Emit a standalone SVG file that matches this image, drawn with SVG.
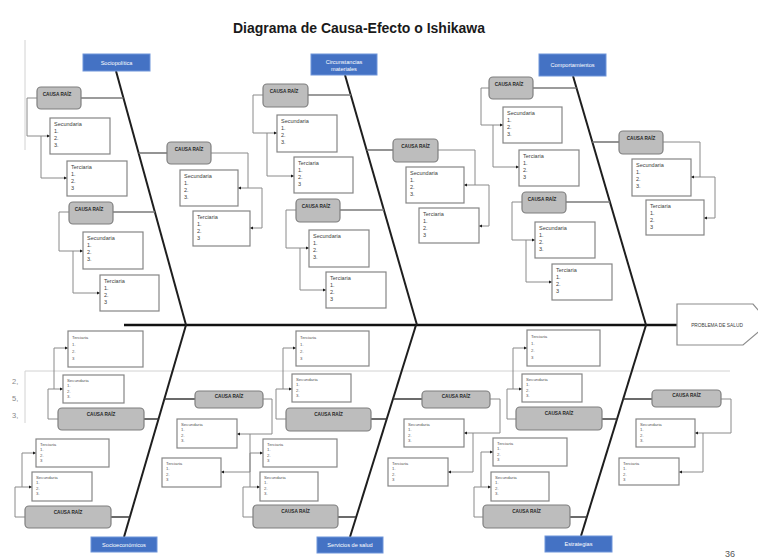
<svg xmlns="http://www.w3.org/2000/svg" width="758" height="559" viewBox="0 0 758 559">
  <style>
    text { font-family: "Liberation Sans", Arial, sans-serif; }
    .title { font-size: 14px; font-weight: bold; fill: #1a1a1a; text-anchor: middle; }
    .spine { stroke: #111; stroke-width: 2.6; fill: none; }
    .bone { stroke: #1e1e1e; stroke-width: 2; fill: none; }
    .stub { stroke: #7a7a7a; stroke-width: 1.6; fill: none; }
    .stub-low { stroke: #3a3a3a; stroke-width: 1.5; fill: none; }
    .link { stroke: #8a8a8a; stroke-width: 1; fill: none; }
    .arrow { marker-end: url(#arr); }
    .faint { stroke: #d2d2d2; stroke-width: 1; fill: none; }
    .cat rect { fill: #4472c4; stroke: #6f95da; stroke-width: 1; }
    .cat text { fill: #ffffff; font-size: 5.6px; text-anchor: middle; }
    .cr rect { fill: #bdbdbd; stroke: #7f7f7f; stroke-width: 1.2; }
    .cr text { fill: #262626; font-size: 4.7px; font-weight: bold; text-anchor: middle; }
    .box rect { fill: #ffffff; stroke: #858585; stroke-width: 1.2; }
    .box text { fill: #404040; font-size: 5.5px; }
    .small text { font-size: 4.3px; fill: #555; }
    .problem polygon { fill: #ffffff; stroke: #8c8c8c; stroke-width: 1.2; }
    .problem text { fill: #404040; font-size: 4.8px; text-anchor: middle; }
    .note { fill: #555; font-size: 9px; }
    .glyph { fill: #888; font-size: 7.5px; }
  </style>
  <defs>
    <marker id="arr" viewBox="0 0 6 6" refX="6" refY="3" markerWidth="3.4" markerHeight="3.4" orient="auto" markerUnits="userSpaceOnUse">
      <path d="M0,0 L6,3 L0,6 z" fill="#1a1a1a"/>
    </marker>
  </defs>

  <rect width="758" height="559" fill="#ffffff"/>

  <text class="title" x="359" y="33">Diagrama de Causa-Efecto o Ishikawa</text>

  <!-- light guide lines -->
  <g id="guides">
    <path class="faint" d="M25,40 V150"/>
    <path class="faint" d="M25,423 V371 H730"/>
    <text class="glyph" x="12" y="384">2,</text>
    <text class="glyph" x="12" y="401">5,</text>
    <text class="glyph" x="12" y="418">3,</text>
  </g>

  <!-- connectors: spine, bones, stubs and brackets -->
  <g id="connectors">
    <path class="spine" d="M124,325 H677"/>
    <path class="bone" d="M116,71 L186,325"/>
    <path class="bone" d="M345,75 L417,325"/>
    <path class="bone" d="M573,76 L646,325"/>
    <path class="bone" d="M186,325 L124,537"/>
    <path class="bone" d="M416,325 L350,537"/>
    <path class="bone" d="M646,325 L581,536"/>

    <!-- root-cause stubs -->
    <path class="stub" d="M81,98 H123.4"/>
    <path class="stub" d="M113,212 H155"/>
    <path class="stub" d="M138.6,153 H167"/>
    <path class="stub" d="M308,95 H351"/>
    <path class="stub" d="M340,210 H384"/>
    <path class="stub" d="M366.6,150 H393"/>
    <path class="stub" d="M533,88 H576.5"/>
    <path class="stub" d="M566,202 H610"/>
    <path class="stub" d="M592.3,142 H619"/>
    <path class="stub-low" d="M144,419 H158.5"/>
    <path class="stub-low" d="M164.4,399 H195"/>
    <path class="stub-low" d="M111,517 H130"/>
    <path class="stub-low" d="M371,419 H386.7"/>
    <path class="stub-low" d="M393,399 H422"/>
    <path class="stub-low" d="M338,517 H356"/>
    <path class="stub-low" d="M602,419 H617"/>
    <path class="stub-low" d="M623.2,399 H652"/>
    <path class="stub-low" d="M570,517 H587"/>

    <!-- brackets, upper half -->
    <path class="link arrow" d="M37,98 H27 V136 H50"/>
    <path class="link arrow" d="M41,136 V178 H67"/>
    <path class="link arrow" d="M69,212 H59 V251 H83"/>
    <path class="link arrow" d="M73,251 V293 H100"/>
    <path class="link" d="M211,153 H248 V188"/>
    <path class="link arrow" d="M262,188 H238"/>
    <path class="link arrow" d="M262,188 V228 H250"/>
    <path class="link arrow" d="M263,95 H253 V133 H277"/>
    <path class="link arrow" d="M267,133 V176 H294"/>
    <path class="link arrow" d="M296,210 H286 V248 H309"/>
    <path class="link arrow" d="M300,248 V290 H326"/>
    <path class="link" d="M438,150 H475 V185"/>
    <path class="link arrow" d="M489,185 H464"/>
    <path class="link arrow" d="M489,185 V226 H479"/>
    <path class="link arrow" d="M489,88 H481 V125 H503"/>
    <path class="link arrow" d="M493,125 V167 H519"/>
    <path class="link arrow" d="M522,202 H512 V240 H535"/>
    <path class="link arrow" d="M526,240 V282 H552"/>
    <path class="link" d="M663,142 H700 V177"/>
    <path class="link arrow" d="M715,177 H691"/>
    <path class="link arrow" d="M715,177 V218 H704"/>

    <!-- brackets, lower half -->
    <path class="link arrow" d="M58,419 H48 V389 H63"/>
    <path class="link arrow" d="M54,389 V348 H68"/>
    <path class="link arrow" d="M263,399 H272 V434 H237"/>
    <path class="link arrow" d="M250,434 V472 H221"/>
    <path class="link arrow" d="M25,517 H15 V487 H32"/>
    <path class="link arrow" d="M22,487 V453 H36"/>
    <path class="link arrow" d="M286,419 H276 V389 H292"/>
    <path class="link arrow" d="M283,389 V348 H296"/>
    <path class="link arrow" d="M490,399 H500 V433 H464"/>
    <path class="link arrow" d="M473,433 V472 H448"/>
    <path class="link arrow" d="M253,517 H243 V487 H260"/>
    <path class="link arrow" d="M250,487 V453 H263"/>
    <path class="link arrow" d="M516,419 H507 V389 H522"/>
    <path class="link arrow" d="M513,389 V348 H527"/>
    <path class="link arrow" d="M721,399 H731 V433 H695"/>
    <path class="link arrow" d="M703,433 V472 H679"/>
    <path class="link arrow" d="M483,517 H474 V487 H491"/>
    <path class="link arrow" d="M481,487 V452 H493"/>
  </g>

  <!-- effect -->
  <g id="problema" class="problem">
    <polygon points="677,304 753,304 769,323 743,345 677,345"/>
    <text x="717" y="327">PROBLEMA DE SALUD</text>
  </g>

  <!-- categories -->
  <g id="cat-sociopolitica" class="cat"><rect x="83" y="54" width="67" height="17"/><text x="116.5" y="64.5">Sociopolítica</text></g>
  <g id="cat-circunstancias" class="cat"><rect x="311" y="54" width="66" height="21"/><text x="344" y="63.5">Circunstancias</text><text x="344" y="70.5">materiales</text></g>
  <g id="cat-comportamientos" class="cat"><rect x="539" y="54" width="67" height="22"/><text x="572.5" y="67">Comportamientos</text></g>
  <g id="cat-socioeconomicos" class="cat"><rect x="91" y="537" width="66" height="15"/><text x="124" y="546.5">Socioeconómicos</text></g>
  <g id="cat-servicios" class="cat"><rect x="317" y="537" width="66" height="16"/><text x="350" y="547">Servicios de salud</text></g>
  <g id="cat-estrategias" class="cat"><rect x="545" y="536" width="67" height="16"/><text x="578.5" y="546">Estrategias</text></g>

  <!-- root causes, upper half -->
  <g id="cr-1" class="cr"><rect x="37" y="87" width="44" height="22" rx="4"/><text x="57" y="95.5">CAUSA RAÍZ</text></g>
  <g id="cr-2" class="cr"><rect x="69" y="202" width="44" height="22" rx="4"/><text x="89" y="210.5">CAUSA RAÍZ</text></g>
  <g id="cr-3" class="cr"><rect x="167" y="142" width="44" height="22" rx="4"/><text x="189" y="150.5">CAUSA RAÍZ</text></g>
  <g id="cr-4" class="cr"><rect x="263" y="84" width="45" height="23" rx="4"/><text x="284" y="92.5">CAUSA RAÍZ</text></g>
  <g id="cr-5" class="cr"><rect x="296" y="199" width="44" height="23" rx="4"/><text x="316" y="207.5">CAUSA RAÍZ</text></g>
  <g id="cr-6" class="cr"><rect x="393" y="139" width="45" height="23" rx="4"/><text x="415.5" y="147.5">CAUSA RAÍZ</text></g>
  <g id="cr-7" class="cr"><rect x="489" y="77" width="44" height="22" rx="4"/><text x="509" y="85.5">CAUSA RAÍZ</text></g>
  <g id="cr-8" class="cr"><rect x="522" y="192" width="44" height="21" rx="4"/><text x="542" y="200.5">CAUSA RAÍZ</text></g>
  <g id="cr-9" class="cr"><rect x="619" y="131" width="44" height="23" rx="4"/><text x="641" y="139.5">CAUSA RAÍZ</text></g>

  <!-- root causes, lower half -->
  <g id="cr-b1" class="cr"><rect x="58" y="408" width="86" height="22" rx="4"/><text x="101" y="416">CAUSA RAÍZ</text></g>
  <g id="cr-b2" class="cr"><rect x="195" y="391" width="68" height="17" rx="4"/><text x="229" y="398">CAUSA RAÍZ</text></g>
  <g id="cr-b3" class="cr"><rect x="25" y="506" width="86" height="22" rx="4"/><text x="68" y="514">CAUSA RAÍZ</text></g>
  <g id="cr-b4" class="cr"><rect x="286" y="408" width="85" height="23" rx="4"/><text x="328.5" y="416">CAUSA RAÍZ</text></g>
  <g id="cr-b5" class="cr"><rect x="422" y="391" width="68" height="17" rx="4"/><text x="456" y="398">CAUSA RAÍZ</text></g>
  <g id="cr-b6" class="cr"><rect x="253" y="505" width="85" height="23" rx="4"/><text x="295.5" y="513">CAUSA RAÍZ</text></g>
  <g id="cr-b7" class="cr"><rect x="516" y="407" width="86" height="23" rx="4"/><text x="559" y="415">CAUSA RAÍZ</text></g>
  <g id="cr-b8" class="cr"><rect x="652" y="390" width="69" height="17" rx="4"/><text x="686.5" y="397">CAUSA RAÍZ</text></g>
  <g id="cr-b9" class="cr"><rect x="483" y="505" width="87" height="23" rx="4"/><text x="526.5" y="513">CAUSA RAÍZ</text></g>

  <!-- secondary / tertiary lists, upper half -->
  <g id="sec-1" class="box"><rect x="50" y="118" width="60" height="36"/><text x="54" y="126">Secundaria</text><text x="54" y="133">1.</text><text x="54" y="140">2.</text><text x="54" y="147">3.</text></g>
  <g id="ter-1" class="box"><rect x="67" y="161" width="60" height="35"/><text x="71" y="169">Terciaria</text><text x="71" y="176">1.</text><text x="71" y="183">2.</text><text x="71" y="190">3</text></g>
  <g id="sec-2" class="box"><rect x="83" y="232" width="60" height="37"/><text x="87" y="240">Secundaria</text><text x="87" y="247">1.</text><text x="87" y="254">2.</text><text x="87" y="261">3.</text></g>
  <g id="ter-2" class="box"><rect x="100" y="275" width="59" height="36"/><text x="104" y="283">Terciaria</text><text x="104" y="290">1.</text><text x="104" y="297">2.</text><text x="104" y="304">3</text></g>
  <g id="sec-3" class="box"><rect x="180" y="170" width="58" height="36"/><text x="184" y="178">Secundaria</text><text x="184" y="185">1.</text><text x="184" y="192">2.</text><text x="184" y="199">3.</text></g>
  <g id="ter-3" class="box"><rect x="193" y="211" width="57" height="35"/><text x="197" y="219">Terciaria</text><text x="197" y="226">1.</text><text x="197" y="233">2.</text><text x="197" y="240">3</text></g>
  <g id="sec-4" class="box"><rect x="277" y="115" width="60" height="37"/><text x="281" y="123">Secundaria</text><text x="281" y="130">1.</text><text x="281" y="137">2.</text><text x="281" y="144">3.</text></g>
  <g id="ter-4" class="box"><rect x="294" y="157" width="59" height="36"/><text x="298" y="165">Terciaria</text><text x="298" y="172">1.</text><text x="298" y="179">2.</text><text x="298" y="186">3</text></g>
  <g id="sec-5" class="box"><rect x="309" y="230" width="60" height="37"/><text x="313" y="238">Secundaria</text><text x="313" y="245">1.</text><text x="313" y="252">2.</text><text x="313" y="259">3.</text></g>
  <g id="ter-5" class="box"><rect x="326" y="272" width="60" height="36"/><text x="330" y="280">Terciaria</text><text x="330" y="287">1.</text><text x="330" y="294">2.</text><text x="330" y="301">3</text></g>
  <g id="sec-6" class="box"><rect x="406" y="167" width="58" height="36"/><text x="410" y="175">Secundaria</text><text x="410" y="182">1.</text><text x="410" y="189">2.</text><text x="410" y="196">3.</text></g>
  <g id="ter-6" class="box"><rect x="419" y="208" width="60" height="35"/><text x="423" y="216">Terciaria</text><text x="423" y="223">1.</text><text x="423" y="230">2.</text><text x="423" y="237">3</text></g>
  <g id="sec-7" class="box"><rect x="503" y="107" width="59" height="36"/><text x="507" y="115">Secundaria</text><text x="507" y="122">1.</text><text x="507" y="129">2.</text><text x="507" y="136">3.</text></g>
  <g id="ter-7" class="box"><rect x="519" y="150" width="60" height="36"/><text x="523" y="158">Terciaria</text><text x="523" y="165">1.</text><text x="523" y="172">2.</text><text x="523" y="179">3</text></g>
  <g id="sec-8" class="box"><rect x="535" y="222" width="60" height="36"/><text x="539" y="230">Secundaria</text><text x="539" y="237">1.</text><text x="539" y="244">2.</text><text x="539" y="251">3.</text></g>
  <g id="ter-8" class="box"><rect x="552" y="264" width="60" height="36"/><text x="556" y="272">Terciaria</text><text x="556" y="279">1.</text><text x="556" y="286">2.</text><text x="556" y="293">3</text></g>
  <g id="sec-9" class="box"><rect x="632" y="159" width="59" height="37"/><text x="636" y="167">Secundaria</text><text x="636" y="174">1.</text><text x="636" y="181">2.</text><text x="636" y="188">3.</text></g>
  <g id="ter-9" class="box"><rect x="646" y="200" width="58" height="35"/><text x="650" y="208">Terciaria</text><text x="650" y="215">1.</text><text x="650" y="222">2.</text><text x="650" y="229">3</text></g>

  <!-- secondary / tertiary lists, lower half -->
  <g id="ter-b1" class="box small"><rect x="68" y="331" width="75" height="36"/><text x="72" y="339">Terciaria</text><text x="72" y="346">1.</text><text x="72" y="353">2.</text><text x="72" y="360">3</text></g>
  <g id="sec-b1" class="box small"><rect x="63" y="375" width="61" height="28"/><text x="67" y="381.5">Secundaria</text><text x="67" y="387">1.</text><text x="67" y="392.5">2.</text><text x="67" y="398">3.</text></g>
  <g id="sec-b2" class="box small"><rect x="177" y="419" width="60" height="29"/><text x="181" y="425.5">Secundaria</text><text x="181" y="431">1.</text><text x="181" y="436.5">2.</text><text x="181" y="442">3.</text></g>
  <g id="ter-b2" class="box small"><rect x="162" y="458" width="59" height="29"/><text x="166" y="464.5">Terciaria</text><text x="166" y="470">1.</text><text x="166" y="475.5">2.</text><text x="166" y="481">3</text></g>
  <g id="ter-b3" class="box small"><rect x="36" y="439" width="73" height="28"/><text x="40" y="445.5">Terciaria</text><text x="40" y="451">1.</text><text x="40" y="456.5">2.</text><text x="40" y="462">3</text></g>
  <g id="sec-b3" class="box small"><rect x="32" y="472" width="60" height="29"/><text x="36" y="478.5">Secundaria</text><text x="36" y="484">1.</text><text x="36" y="489.5">2.</text><text x="36" y="495">3.</text></g>
  <g id="ter-b4" class="box small"><rect x="296" y="331" width="73" height="35"/><text x="300" y="339">Terciaria</text><text x="300" y="346">1.</text><text x="300" y="353">2.</text><text x="300" y="360">3</text></g>
  <g id="sec-b4" class="box small"><rect x="292" y="374" width="59" height="28"/><text x="296" y="380.5">Secundaria</text><text x="296" y="386">1.</text><text x="296" y="391.5">2.</text><text x="296" y="397">3.</text></g>
  <g id="sec-b5" class="box small"><rect x="404" y="419" width="60" height="28"/><text x="408" y="425.5">Secundaria</text><text x="408" y="431">1.</text><text x="408" y="436.5">2.</text><text x="408" y="442">3.</text></g>
  <g id="ter-b5" class="box small"><rect x="388" y="458" width="60" height="28"/><text x="392" y="464.5">Terciaria</text><text x="392" y="470">1.</text><text x="392" y="475.5">2.</text><text x="392" y="481">3</text></g>
  <g id="ter-b6" class="box small"><rect x="263" y="439" width="74" height="28"/><text x="267" y="445.5">Terciaria</text><text x="267" y="451">1.</text><text x="267" y="456.5">2.</text><text x="267" y="462">3</text></g>
  <g id="sec-b6" class="box small"><rect x="260" y="472" width="58" height="29"/><text x="264" y="478.5">Secundaria</text><text x="264" y="484">1.</text><text x="264" y="489.5">2.</text><text x="264" y="495">3.</text></g>
  <g id="ter-b7" class="box small"><rect x="527" y="330" width="73" height="36"/><text x="531" y="338">Terciaria</text><text x="531" y="345">1.</text><text x="531" y="352">2.</text><text x="531" y="359">3</text></g>
  <g id="sec-b7" class="box small"><rect x="522" y="374" width="60" height="28"/><text x="526" y="380.5">Secundaria</text><text x="526" y="386">1.</text><text x="526" y="391.5">2.</text><text x="526" y="397">3.</text></g>
  <g id="sec-b8" class="box small"><rect x="636" y="419" width="59" height="28"/><text x="640" y="425.5">Secundaria</text><text x="640" y="431">1.</text><text x="640" y="436.5">2.</text><text x="640" y="442">3.</text></g>
  <g id="ter-b8" class="box small"><rect x="619" y="458" width="60" height="27"/><text x="623" y="464.5">Terciaria</text><text x="623" y="470">1.</text><text x="623" y="475.5">2.</text><text x="623" y="481">3</text></g>
  <g id="ter-b9" class="box small"><rect x="493" y="438" width="74" height="28"/><text x="497" y="444.5">Terciaria</text><text x="497" y="450">1.</text><text x="497" y="455.5">2.</text><text x="497" y="461">3</text></g>
  <g id="sec-b9" class="box small"><rect x="491" y="472" width="58" height="29"/><text x="495" y="478.5">Secundaria</text><text x="495" y="484">1.</text><text x="495" y="489.5">2.</text><text x="495" y="495">3.</text></g>

  <text class="note" x="725" y="557">36</text>
</svg>
